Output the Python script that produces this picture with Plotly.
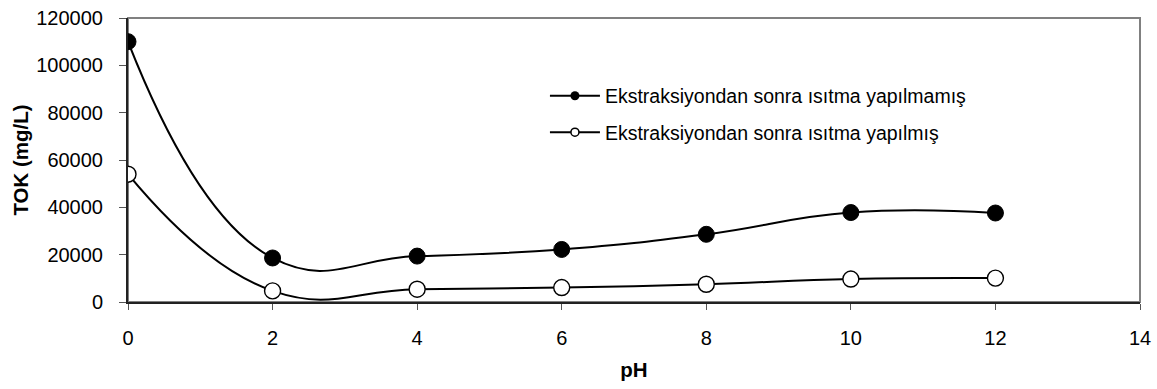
import plotly.graph_objects as go

ph = [0, 2, 4, 6, 8, 10, 12]
tok_unheated = [110000, 18600, 19400, 22200, 28600, 37800, 37600]
tok_heated = [54000, 4700, 5400, 6100, 7500, 9700, 10100]
name_unheated = "Ekstraksiyondan sonra ısıtma yapılmamış"
name_heated = "Ekstraksiyondan sonra ısıtma yapılmış"
x_ticks = [0, 2, 4, 6, 8, 10, 12, 14]
y_ticks = [0, 20000, 40000, 60000, 80000, 100000, 120000]

FONT = "Liberation Sans, Arial, sans-serif"

fig = go.Figure()
fig.add_trace(go.Scatter(
    x=ph, y=tok_unheated, mode="lines+markers", showlegend=False,
    line=dict(color="black", width=2, shape="spline", smoothing=1.3),
    marker=dict(size=16, color="black", line=dict(color="black", width=1)),
))
fig.add_trace(go.Scatter(
    x=ph, y=tok_heated, mode="lines+markers", showlegend=False,
    line=dict(color="black", width=2, shape="spline", smoothing=1.3),
    marker=dict(size=16, color="white", line=dict(color="black", width=1.4)),
))
# legend entries
fig.add_trace(go.Scatter(
    x=[None], y=[None], mode="lines+markers", name=name_unheated, legend="legend",
    line=dict(color="black", width=2),
    marker=dict(size=9, color="black"),
))
fig.add_trace(go.Scatter(
    x=[None], y=[None], mode="lines+markers", name=name_heated, legend="legend2",
    line=dict(color="black", width=2),
    marker=dict(size=8, color="white", line=dict(color="black", width=1.5)),
))

legend_common = dict(font=dict(family=FONT, size=19.5, color="black"),
                     bgcolor="rgba(0,0,0,0)", borderwidth=0,
                     xanchor="left", yanchor="middle", itemwidth=50)

fig.update_layout(
    width=1157, height=389,
    margin=dict(l=128, r=17, t=18, b=87),
    paper_bgcolor="white", plot_bgcolor="white",
    font=dict(family=FONT, size=19.5, color="black"),
    showlegend=True,
    legend=dict(x=0.412, y=0.725, **legend_common),
    legend2=dict(x=0.412, y=0.597, **legend_common),
    xaxis=dict(
        range=[0, 14], tickvals=x_ticks, ticktext=[str(v) for v in x_ticks],
        showgrid=False, zeroline=False, automargin=False,
        showline=True, linecolor="#222", linewidth=2,
        ticks="outside", ticklen=6, tickcolor="#555", tickwidth=1,
        ticklabelstandoff=11,
        tickfont=dict(family=FONT, size=20, color="black"),
        title=dict(text="<b>pH</b>", font=dict(family=FONT, size=20.5, color="black"), standoff=15),
    ),
    yaxis=dict(
        range=[0, 120000], tickvals=y_ticks, ticktext=[str(v) for v in y_ticks],
        showgrid=False, zeroline=False, automargin=False,
        showline=True, linecolor="#222", linewidth=2,
        ticks="outside", ticklen=7, tickcolor="#555", tickwidth=1,
        ticklabelstandoff=12,
        tickfont=dict(family=FONT, size=20, color="black"),
        title=dict(text="<b>TOK (mg/L)</b>", font=dict(family=FONT, size=20.5, color="black"), standoff=2),
    ),
    shapes=[dict(type="rect", xref="paper", yref="paper", x0=0, x1=1, y0=0, y1=1,
                 line=dict(color="#808080", width=2), layer="below")],
)

fig.write_html("out.html")
